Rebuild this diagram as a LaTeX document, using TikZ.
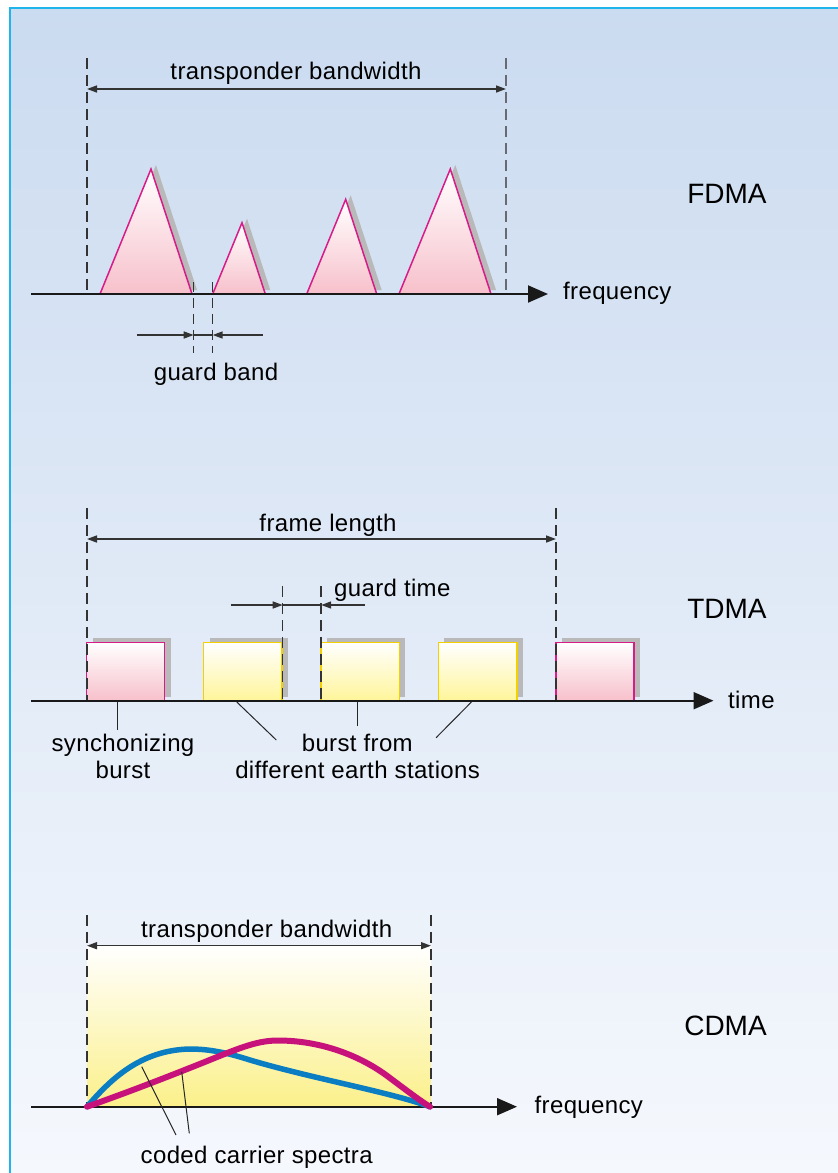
\documentclass[tikz,border=0pt]{standalone}
\usepackage{fontspec}
\setmainfont{Liberation Sans}
\usetikzlibrary{arrows.meta}
\definecolor{bgtop}{HTML}{CBDBF0}
\definecolor{bgbot}{HTML}{F5F8FD}
\definecolor{framecol}{HTML}{1FB4EA}
\definecolor{magline}{HTML}{D81B87}
\definecolor{pinkfill}{HTML}{F7C0CB}
\definecolor{yelline}{HTML}{F5D000}
\definecolor{yelfill}{HTML}{FFF59A}
\definecolor{shadowgray}{HTML}{B9B9B9}
\definecolor{dimgray}{HTML}{333333}
\definecolor{lightdash}{HTML}{666B72}
\definecolor{cdmablue}{HTML}{0B7DC2}
\definecolor{cdmamag}{HTML}{C8127B}
\definecolor{cdmayel}{HTML}{FBF08A}
\tikzset{
 lbl/.style={font=\fontsize{24}{28}\selectfont\addfontfeatures{LetterSpace=1.5}, inner sep=0pt, anchor=base},
 biglbl/.style={font=\fontsize{28}{32}\selectfont, inner sep=0pt, anchor=base},
 dashv/.style={draw=dimgray, line width=1.5pt, dash pattern=on 11pt off 6pt},
 dimarrow/.style={draw=dimgray, line width=1.5pt, {Triangle[length=10pt,width=7pt]}-{Triangle[length=10pt,width=7pt]}},
 onearrow/.style={draw=dimgray, line width=1.5pt, -{Triangle[length=10pt,width=7pt]}},
 axisline/.style={draw=black!90, line width=2pt, -{Triangle[length=20pt,width=17pt]}},
 leader/.style={draw=black!85, line width=1pt},
 pinkshape/.style={draw=magline, line width=1.5pt, top color=white, bottom color=pinkfill},
 yelshape/.style={draw=yelline, line width=1.5pt, top color=white, bottom color=yelfill},
}
\begin{document}
\begin{tikzpicture}[x=1pt,y=-1pt]
\useasboundingbox (0,0) rectangle (838,1173);
% background
\fill[white] (0,0) rectangle (838,1173);
\shade[top color=bgtop, bottom color=bgbot] (10,8) rectangle (838,1173);
\draw[framecol, line width=2pt] (10,1173) -- (10,8) -- (838,8);

% ================= FDMA =================
\coordinate (fL0) at (87,58);   \coordinate (fL1) at (87,294);
\coordinate (fR0) at (506,58);  \coordinate (fR1) at (506,294);
\draw[dashv] (fL0) -- (fL1);
\draw[dashv, draw=lightdash, line width=2pt] (fR0) -- (fR1);
\coordinate (fdL) at (87,89); \coordinate (fdR) at (506,89);
\draw[dimarrow] (fdL) -- (fdR);
\node[lbl] (ftb) at (296,79) {transponder bandwidth};

% triangles: shadows
\foreach \a/\b/\px/\py in {100/192/151/169, 212.7/265.3/242/222.7, 306.7/376.7/345.7/199.3, 399/491/450.3/169}{
  \fill[shadowgray] (\a+5,290) -- (\px+5,\py-4) -- (\b+5,290) -- cycle;
}
\foreach \a/\b/\px/\py in {100/192/151/169, 212.7/265.3/242/222.7, 306.7/376.7/345.7/199.3, 399/491/450.3/169}{
  \shade[pinkshape] (\a,294) -- (\px,\py) -- (\b,294) -- cycle;
}
\coordinate (fax0) at (31,294); \coordinate (fax1) at (548,294);
\draw[axisline] (fax0) -- (fax1);
\node[lbl, anchor=base west] (ffreq) at (563,299.5) {frequency};
\node[biglbl] (fdma) at (727,203) {FDMA};

% guard band
\coordinate (gb1a) at (193.7,282); \coordinate (gb1b) at (193.7,353);
\coordinate (gb2a) at (212.7,282); \coordinate (gb2b) at (212.7,353);
\draw[dashv, dash pattern=on 10pt off 6pt] (gb1a) -- (gb1b);
\draw[dashv, dash pattern=on 10pt off 6pt] (gb2a) -- (gb2b);
\coordinate (gbm1) at (193.7,335); \coordinate (gbm2) at (212.7,335);
\draw[dimgray, line width=1.5pt] (gbm1) -- (gbm2);
\coordinate (gbl) at (136.7,335); \coordinate (gbr) at (262.7,335);
\draw[onearrow] (gbl) -- (gbm1);
\draw[onearrow] (gbr) -- (gbm2);
\node[lbl] (gband) at (216,380) {guard band};

% ================= TDMA =================
% shadows
\foreach \a/\b in {86.6/164.6, 203.6/282.2, 321.2/399.3, 438.3/516.8, 555.9/633.9}{
  \fill[shadowgray] (\a+6,638) rectangle (\b+6,697);
}
\shade[pinkshape] (86.6,642.7) rectangle (164.6,700.7);
\shade[yelshape] (203.6,642.7) rectangle (282.2,700.7);
\shade[yelshape] (321.2,642.7) rectangle (399.3,700.7);
\shade[yelshape] (438.3,642.7) rectangle (516.8,700.7);
\shade[pinkshape] (555.9,642.7) rectangle (633.9,700.7);

\coordinate (tL0) at (87,508);  \coordinate (tL1) at (87,700);
\coordinate (tR0) at (556,508); \coordinate (tR1) at (556,700);
\draw[dashv] (tL0) -- (tL1);
\draw[dashv] (tR0) -- (tR1);
\coordinate (tdL) at (87,539); \coordinate (tdR) at (556,539);
\draw[dimarrow] (tdL) -- (tdR);
\node[lbl] (flen) at (328,531.5) {frame length};

\coordinate (gt1a) at (282.7,586); \coordinate (gt1b) at (282.7,700);
\coordinate (gt2a) at (321.2,586); \coordinate (gt2b) at (321.2,700);
\draw[dashv] (gt1a) -- (gt1b);
\draw[dashv] (gt2a) -- (gt2b);
\coordinate (gtm1) at (282.7,605); \coordinate (gtm2) at (321.2,605);
\draw[dimgray, line width=1.5pt] (gtm1) -- (gtm2);
\coordinate (gtl) at (231.4,605); \coordinate (gtr) at (365,605);
\draw[onearrow] (gtl) -- (gtm1);
\draw[onearrow] (gtr) -- (gtm2);
\node[lbl, anchor=base west] (gtime) at (334,596.7) {guard time};

\coordinate (tax0) at (31,700.7); \coordinate (tax1) at (713.5,700.7);
\draw[axisline] (tax0) -- (tax1);
\node[lbl, anchor=base west] (ttime) at (728,708.5) {time};
\node[biglbl] (tdma) at (727,618.3) {TDMA};

% leaders
\coordinate (ls0) at (117,702);   \coordinate (ls1) at (117,730);
\coordinate (lb1a) at (236.8,702); \coordinate (lb1b) at (276.3,740);
\coordinate (lb2a) at (357,702);   \coordinate (lb2b) at (357,726);
\coordinate (lb3a) at (471.4,702); \coordinate (lb3b) at (436.1,737.7);
\draw[leader] (ls0) -- (ls1);
\draw[leader] (lb1a) -- (lb1b);
\draw[leader] (lb2a) -- (lb2b);
\draw[leader] (lb3a) -- (lb3b);
\node[lbl] (sync1) at (123,751.7) {synchonizing};
\node[lbl] (sync2) at (123,778.3) {burst};
\node[lbl] (bf1) at (357.3,751.7) {burst from};
\node[lbl] (bf2) at (357.6,778.3) {different earth stations};

% ================= CDMA =================
\shade[top color=white, bottom color=cdmayel] (87,945) rectangle (431,1106.7);
\coordinate (cL0) at (87,915);  \coordinate (cL1) at (87,1106.7);
\coordinate (cR0) at (431,915); \coordinate (cR1) at (431,1106.7);
\draw[dashv] (cL0) -- (cL1);
\draw[dashv] (cR0) -- (cR1);
\coordinate (cdL) at (87,945.7); \coordinate (cdR) at (431,945.7);
\draw[dimarrow] (cdL) -- (cdR);
\node[lbl] (ctb) at (266.7,937.3) {transponder bandwidth};

\coordinate (cax0) at (31,1106.7); \coordinate (cax1) at (517,1106.7);
\draw[axisline] (cax0) -- (cax1);
\node[lbl, anchor=base west] (cfreq) at (534.5,1113.5) {frequency};
\node[biglbl] (cdma) at (725.5,1035) {CDMA};

\draw[cdmablue, line width=5.5pt, line cap=round]
  (87,1106.7) .. controls (110,1080) and (140,1050) .. (190,1049)
  .. controls (210,1049) and (228,1053) .. (250,1060)
  .. controls (310,1078) and (390,1092) .. (430,1106.7);
\draw[cdmamag, line width=6pt, line cap=round]
  (87,1106.7) .. controls (140,1088) and (190,1068) .. (222,1055)
  .. controls (245,1046) and (260,1040.5) .. (278,1040.5)
  .. controls (320,1040.5) and (360,1055) .. (390,1078)
  .. controls (410,1093) and (422,1102) .. (430,1106.7);

\coordinate (cl1a) at (141.7,1066.7); \coordinate (cl1b) at (176,1135);
\coordinate (cl2a) at (181.7,1071.7); \coordinate (cl2b) at (189.3,1133.3);
\draw[leader] (cl1a) -- (cl1b);
\draw[leader] (cl2a) -- (cl2b);
\node[lbl] (ccs) at (256.7,1163.3) {coded carrier spectra};
\end{tikzpicture}
\end{document}
